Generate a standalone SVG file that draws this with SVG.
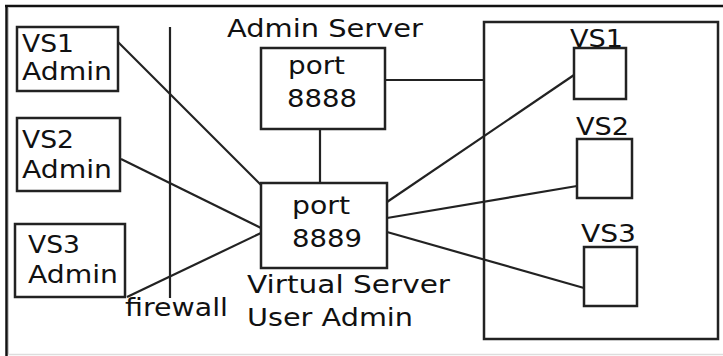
<svg xmlns="http://www.w3.org/2000/svg" width="723" height="356" viewBox="0 0 723 356">
<style>
.box{fill:#fff;stroke:#222;stroke-width:2.5}
.grp{fill:none;stroke:#222;stroke-width:2.5}
.ln{stroke:#222;stroke-width:2.2;fill:none}
text{font-family:"DejaVu Sans","Verdana",sans-serif;font-size:25px;fill:#111}
</style>
<rect x="0" y="0" width="723" height="356" fill="#fff"/>
<g id="frame">
<line x1="5" y1="6" x2="723" y2="6" stroke="#111" stroke-width="2.5"/>
<line x1="6.5" y1="5" x2="6.5" y2="356" stroke="#111" stroke-width="2.5"/>
<line x1="8.5" y1="8" x2="8.5" y2="354" stroke="#ccc" stroke-width="1"/>
<line x1="8" y1="354.5" x2="723" y2="354.5" stroke="#ddd" stroke-width="1.5"/>
</g>
<g id="vsgroup">
<rect class="grp" x="484" y="22" width="234" height="317"/>
</g>
<g id="connectors">
<line class="ln" x1="170" y1="27" x2="170" y2="298"/>
<line class="ln" x1="118" y1="42" x2="262" y2="186"/>
<line class="ln" x1="121" y1="159" x2="261" y2="228"/>
<line class="ln" x1="127" y1="297" x2="261" y2="233"/>
<line class="ln" x1="385" y1="80" x2="484" y2="80"/>
<line class="ln" x1="320" y1="129" x2="320" y2="183"/>
<line class="ln" x1="387" y1="202" x2="574" y2="75"/>
<line class="ln" x1="387" y1="218" x2="577" y2="186"/>
<line class="ln" x1="387" y1="232" x2="584" y2="288"/>
</g>
<g id="vs1admin">
<rect class="box" x="17" y="27" width="101" height="64"/>
<text x="22" y="52" textLength="52" lengthAdjust="spacingAndGlyphs">VS1</text>
<text x="22" y="80" textLength="90" lengthAdjust="spacingAndGlyphs">Admin</text>
</g>
<g id="vs2admin">
<rect class="box" x="17" y="118" width="103" height="73"/>
<text x="22" y="148" textLength="52" lengthAdjust="spacingAndGlyphs">VS2</text>
<text x="22" y="178" textLength="90" lengthAdjust="spacingAndGlyphs">Admin</text>
</g>
<g id="vs3admin">
<rect class="box" x="15" y="224" width="110" height="73"/>
<text x="28" y="253" textLength="52" lengthAdjust="spacingAndGlyphs">VS3</text>
<text x="28" y="283" textLength="90" lengthAdjust="spacingAndGlyphs">Admin</text>
</g>
<g id="firewall">
<text x="125" y="316" textLength="103" lengthAdjust="spacingAndGlyphs">firewall</text>
</g>
<g id="adminserver">
<text x="227" y="37" textLength="196" lengthAdjust="spacingAndGlyphs">Admin Server</text>
<rect class="box" x="261" y="48" width="124" height="81"/>
<text x="288" y="74" textLength="57" lengthAdjust="spacingAndGlyphs">port</text>
<text x="287" y="107" textLength="70" lengthAdjust="spacingAndGlyphs">8888</text>
</g>
<g id="vsuseradmin">
<rect class="box" x="261" y="183" width="126" height="85"/>
<text x="292" y="214" textLength="58" lengthAdjust="spacingAndGlyphs">port</text>
<text x="292" y="247" textLength="70" lengthAdjust="spacingAndGlyphs">8889</text>
<text x="247" y="293" textLength="203" lengthAdjust="spacingAndGlyphs">Virtual Server</text>
<text x="247" y="326" textLength="166" lengthAdjust="spacingAndGlyphs">User Admin</text>
</g>
<g id="vs1">
<rect class="box" x="574" y="48" width="52" height="51"/>
<text x="570" y="47" textLength="53" lengthAdjust="spacingAndGlyphs">VS1</text>
</g>
<g id="vs2">
<rect class="box" x="577" y="139" width="55" height="59"/>
<text x="576" y="135" textLength="53" lengthAdjust="spacingAndGlyphs">VS2</text>
</g>
<g id="vs3">
<rect class="box" x="584" y="247" width="53" height="59"/>
<text x="581" y="242" textLength="55" lengthAdjust="spacingAndGlyphs">VS3</text>
</g>
</svg>
